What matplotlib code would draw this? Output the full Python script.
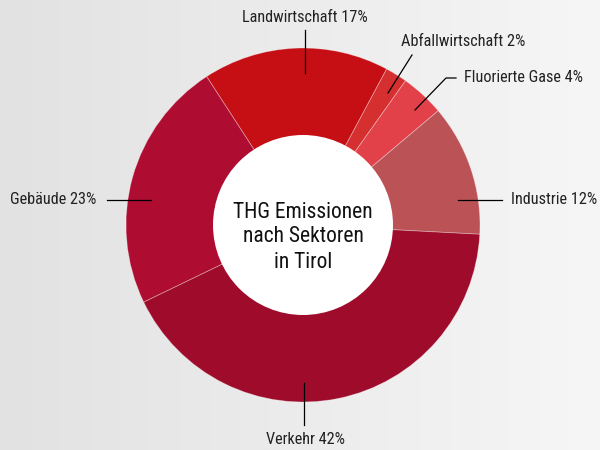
import matplotlib
matplotlib.use("Agg")
import matplotlib.pyplot as plt
import numpy as np
from matplotlib.patches import Circle
from matplotlib.colors import LinearSegmentedColormap

plt.rcParams['font.family'] = ['Roboto Condensed', 'Liberation Sans Narrow', 'Roboto', 'DejaVu Sans']

sectors = ["Landwirtschaft", "Abfallwirtschaft", "Fluorierte Gase", "Industrie", "Verkehr", "Gebäude"]
shares = [17, 2, 4, 12, 42, 23]
colors = ["#c50f14", "#d52f2f", "#e2414a", "#bb5356", "#9e0b2b", "#af0c31"]
title = "THG Emissionen\nnach Sektoren\nin Tirol"

W, H = 600, 450
fig = plt.figure(figsize=(6, 4.5), dpi=100)
ax = fig.add_axes([0, 0, 1, 1])

# background gradient
grad = np.linspace(0, 1, 256).reshape(1, -1)
cmap = LinearSegmentedColormap.from_list("bg", ["#e2e2e2", "#f6f6f6"])
ax.imshow(grad, extent=[0, W, 0, H], aspect='auto', cmap=cmap, zorder=0)

cx, cy, R = 303, 225, 177
ax.pie(shares, colors=colors, startangle=123, counterclock=False,
       center=(cx, cy), radius=R, frame=True,
       wedgeprops=dict(edgecolor=(1, 1, 1, 0.35), linewidth=0.6))
ax.set_xlim(0, W)
ax.set_ylim(0, H)
ax.set_aspect('auto')
ax.axis('off')
ax.add_patch(Circle((cx, cy), 90, facecolor='white', edgecolor='none', zorder=5))
ax.text(cx, cy - 12, title, ha='center', va='center', fontsize=15.5,
        color='#111111', linespacing=1.25, zorder=6)

labels = [f"{s} {v}%" for s, v in zip(sectors, shares)]
fs = 11.7
tc = '#222222'
lk = dict(color='black', lw=0.9, zorder=7)

def P(y):
    return H - y

# Landwirtschaft
ax.plot([305, 305], [P(30), P(73)], **lk)
ax.text(305, P(17), labels[0], ha='center', va='center', fontsize=fs, color=tc)
# Abfallwirtschaft
ax.plot([388, 412], [P(93), P(55)], **lk)
ax.text(401, P(42), labels[1], ha='left', va='center', fontsize=fs, color=tc)
# Fluorierte Gase
ax.plot([415, 446, 456], [P(110), P(78), P(78)], **lk)
ax.text(464, P(77), labels[2], ha='left', va='center', fontsize=fs, color=tc)
# Industrie
ax.plot([458, 502], [P(200), P(200)], **lk)
ax.text(511, P(200), labels[3], ha='left', va='center', fontsize=fs, color=tc)
# Verkehr
ax.plot([304, 304], [P(383), P(425)], **lk)
ax.text(305, P(440), labels[4], ha='center', va='center', fontsize=fs, color=tc)
# Gebäude
ax.plot([107, 151], [P(200), P(200)], **lk)
ax.text(96, P(200), labels[5], ha='right', va='center', fontsize=fs, color=tc)

fig.savefig("out.png", dpi=100)
